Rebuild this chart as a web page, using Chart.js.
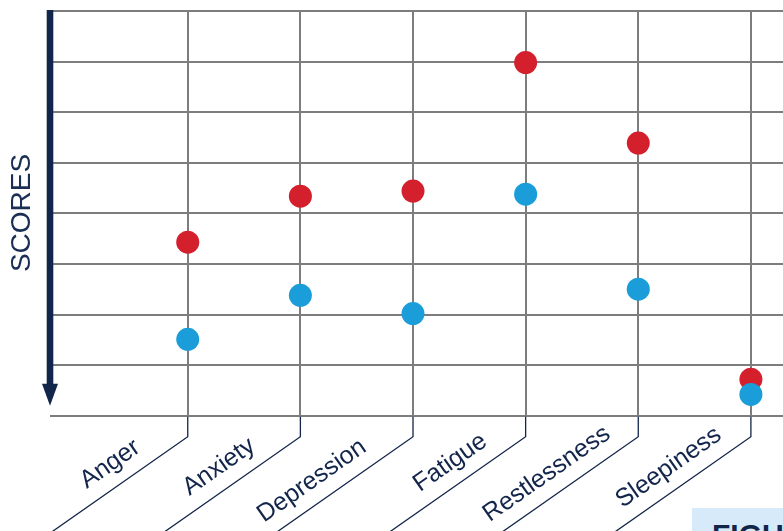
<!DOCTYPE html>
<html>
<head>
<meta charset="utf-8">
<script src="https://cdn.jsdelivr.net/npm/chart.js@4.4.1/dist/chart.umd.min.js"></script>
<style>
  body { margin: 0; background: #fff; overflow: hidden; }
  #wrap { position: relative; width: 783px; height: 531px; }
  #figTag {
    position: absolute; left: 692px; top: 508px; width: 91px; height: 23px;
    background: #d6eafa; overflow: hidden;
  }
  #figTag span {
    position: absolute; left: 20px; top: 10px;
    font: bold 30px "Liberation Sans", Arial, sans-serif; color: #12254a; white-space: nowrap;
  }
</style>
</head>
<body>
<div id="wrap">
  <canvas id="scoreChart" width="783" height="531"></canvas>
  <div id="figTag"><span>FIGURE</span></div>
</div>
<script>
const categories = ["Anger", "Anxiety", "Depression", "Fatigue", "Restlessness", "Sleepiness"];
const scoresRed = [3.43, 4.34, 4.44, 6.98, 5.39, 0.72];
const scoresBlue = [1.51, 2.38, 2.02, 4.38, 2.50, 0.42];
const yTicks = [0, 1, 2, 3, 4, 5, 6, 7, 8];

const navy = "#12254a";
const gridGray = "#7d7d7d";
// the labels in the original are not placed quite evenly, small nudges along the slant
const labelNudge = [-10, -7, -9, 1, 14, 12];

function toPoints(values) {
  return values.map((v, i) => ({ x: i, y: v }));
}

// arrow down the left side + the "SCORES" title
const arrowPlugin = {
  id: "arrowPlugin",
  afterDraw(chart) {
    const ctx = chart.ctx;
    const area = chart.chartArea;
    const x = area.left;
    const top = chart.scales.y.getPixelForValue(yTicks[yTicks.length - 1]) - 1;
    const tip = chart.scales.y.getPixelForValue(0) - 10;
    ctx.save();
    ctx.fillStyle = navy;
    ctx.fillRect(x - 3.3, top, 6.6, tip - top - 20);
    ctx.beginPath();
    ctx.moveTo(x - 8, tip - 22);
    ctx.lineTo(x + 8, tip - 22);
    ctx.lineTo(x, tip);
    ctx.closePath();
    ctx.fill();

    ctx.translate(21, 213);
    ctx.rotate(-Math.PI / 2);
    ctx.font = '28px "Liberation Sans", Arial, sans-serif';
    ctx.fillStyle = "#1b2f55";
    ctx.textAlign = "center";
    ctx.textBaseline = "middle";
    ctx.fillText("SCORES", 0, 1);
    ctx.restore();
  }
};

// slanted category labels with their leader lines
const slantLabels = {
  id: "slantLabels",
  afterDraw(chart) {
    const ctx = chart.ctx;
    const xs = chart.scales.x;
    const bottom = chart.chartArea.bottom;
    const ang = 35 * Math.PI / 180;
    ctx.save();
    ctx.strokeStyle = navy;
    ctx.lineWidth = 1.3;
    ctx.fillStyle = navy;
    ctx.font = '25px "Liberation Sans", Arial, sans-serif';
    categories.forEach((name, i) => {
      const x = xs.getPixelForValue(i);
      const bendY = bottom + 21;
      ctx.beginPath();
      ctx.moveTo(x, bottom + 1);
      ctx.lineTo(x, bendY);
      ctx.lineTo(x - Math.cos(ang) * 250, bendY + Math.sin(ang) * 250);
      ctx.stroke();

      ctx.save();
      ctx.translate(x, bendY);
      ctx.rotate(-ang);
      ctx.textAlign = "right";
      ctx.textBaseline = "alphabetic";
      ctx.fillText(name, -36 + labelNudge[i], -15);
      ctx.restore();
    });
    ctx.restore();
  }
};

new Chart(document.getElementById("scoreChart"), {
  type: "scatter",
  data: {
    datasets: [
      {
        label: "blue",
        data: toPoints(scoresBlue),
        backgroundColor: "#1a9dd8",
        borderWidth: 0,
        pointRadius: 11.5
      },
      {
        label: "red",
        data: toPoints(scoresRed),
        backgroundColor: "#d41f2d",
        borderWidth: 0,
        pointRadius: 11.5
      }
    ]
  },
  options: {
    responsive: false,
    animation: false,
    events: [],
    layout: { autoPadding: false, padding: { left: 50, top: 11, right: 0, bottom: 115.3 } },
    plugins: {
      legend: { display: false },
      tooltip: { enabled: false }
    },
    scales: {
      x: {
        type: "linear",
        min: -1.223,
        max: 5.285,
        afterBuildTicks: (scale) => {
          scale.ticks = categories.map((c, i) => ({ value: i }));
        },
        ticks: { display: false },
        border: { display: false },
        grid: { color: gridGray, lineWidth: 2, drawTicks: false }
      },
      y: {
        min: 0,
        max: 8,
        afterBuildTicks: (scale) => {
          scale.ticks = yTicks.map((v) => ({ value: v }));
        },
        ticks: { display: false },
        border: { display: false },
        grid: { color: gridGray, lineWidth: 2, drawTicks: false }
      }
    }
  },
  plugins: [arrowPlugin, slantLabels]
});
</script>
</body>
</html>
